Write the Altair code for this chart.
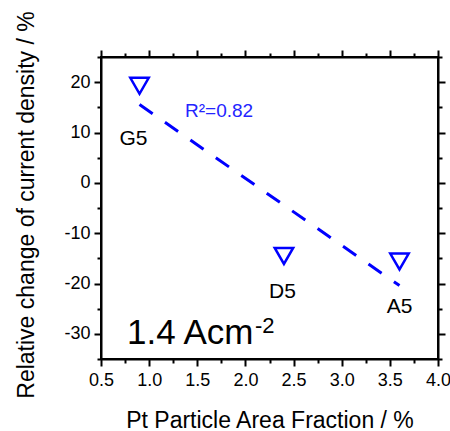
import altair as alt
import numpy as np
import pandas as pd

# Samples, Pt particle area fraction (%) and relative change of current density (%)
samples = ["G5", "D5", "A5"]
area_fraction = [0.9, 2.4, 3.6]
current_change = [19.8, -14.0, -15.1]

# Axis tick positions (majors labelled, minors between them)
x_tick_values = [0.5, 0.75, 1.0, 1.25, 1.5, 1.75, 2.0, 2.25, 2.5, 2.75,
                 3.0, 3.25, 3.5, 3.75, 4.0]
y_tick_values = [-35, -30, -25, -20, -15, -10, -5, 0, 5, 10, 15, 20, 25]

df = pd.DataFrame({"sample": samples, "x": area_fraction, "y": current_change})

# coefficient of determination of the linear fit
r2 = float(np.corrcoef(area_fraction, current_change)[0, 1] ** 2)

FONT = "Liberation Sans"
BLUE = "#0000ff"

x_scale = alt.Scale(domain=[0.5, 4.0], nice=False, zero=False)
y_scale = alt.Scale(domain=[-35, 25], nice=False, zero=False)

x_minor = "abs(datum.value * 2 - round(datum.value * 2)) > 0.001"
y_minor = "datum.value % 10 !== 0"


def axis(orient, values, minor_test, labels=True, label_expr=None, **kw):
    opts = dict(
        orient=orient,
        values=values,
        grid=False,
        domainColor="black",
        domainWidth=2,
        tickColor="black",
        tickWidth=2,
        tickSize={"condition": {"test": minor_test, "value": 4}, "value": 7},
        labels=labels,
        labelFont=FONT,
        labelFontSize=18,
        labelColor="black",
        labelOverlap=False,
        labelFlush=False,
        titleFont=FONT,
        titleFontSize=23,
        titleFontWeight="normal",
        titleColor="black",
    )
    if label_expr:
        opts["labelExpr"] = label_expr
    opts.update(kw)
    return alt.Axis(**opts)


bottom_axis = axis(
    "bottom", x_tick_values, x_minor,
    label_expr=f"{x_minor} ? '' : format(datum.value, '.1f')",
    labelPadding=5,
    title="Pt Particle Area Fraction / %",
    titleY=68, titleBaseline="alphabetic",
)
left_axis = axis(
    "left", y_tick_values, y_minor,
    label_expr=f"{y_minor} ? '' : '' + datum.value",
    labelPadding=4,
    title="Relative change of current density / %",
    titleX=-67.7, titleY=147.5, titleBaseline="alphabetic",
)
top_axis = axis("top", x_tick_values, x_minor, labels=False, title=None)
right_axis = axis("right", y_tick_values, y_minor, labels=False, title=None)

base = alt.Chart(df)

# open downward triangle, centred on its centroid
tri_down = "M-1,-0.577L1,-0.577L0,1.155Z"

points = base.mark_point(
    shape=tri_down, filled=False, size=340, strokeWidth=2.5, color=BLUE, opacity=1
).encode(
    x=alt.X("x:Q", scale=x_scale, axis=bottom_axis),
    y=alt.Y("y:Q", scale=y_scale, axis=left_axis),
)

fit = base.transform_regression(
    "x", "y", method="linear", extent=[min(area_fraction), max(area_fraction)]
).mark_line(
    color=BLUE, strokeWidth=3, strokeDash=[16, 15]
).encode(
    x=alt.X("x:Q", scale=x_scale, axis=None),
    y=alt.Y("y:Q", scale=y_scale, axis=None),
)

frame = base.mark_point(opacity=0).encode(
    x=alt.X("x:Q", scale=x_scale, axis=top_axis),
    y=alt.Y("y:Q", scale=y_scale, axis=right_axis),
)


def sample_label(name, dx, dy):
    return base.transform_filter(alt.datum.sample == name).mark_text(
        font=FONT, fontSize=21, color="black", dx=dx, dy=dy, baseline="middle"
    ).encode(
        x=alt.X("x:Q", scale=x_scale, axis=None),
        y=alt.Y("y:Q", scale=y_scale, axis=None),
        text="sample:N",
    )


labels = [
    sample_label("G5", -6, 56),
    sample_label("D5", -1.5, 39),
    sample_label("A5", 0, 48.5),
]

r2_text = alt.Chart().mark_text(
    font=FONT, fontSize=19, color="#2424ff", align="left", baseline="alphabetic"
).encode(x=alt.value(84), y=alt.value(59.7), text=alt.value(f"R\u00b2={r2:.2f}"))

density_text = alt.Chart().mark_text(
    font=FONT, fontSize=35, color="black", align="left", baseline="alphabetic"
).encode(x=alt.value(26), y=alt.value(287.3), text=alt.value("1.4 Acm"))

density_exp = alt.Chart().mark_text(
    font=FONT, fontSize=22, color="black", align="left", baseline="alphabetic"
).encode(x=alt.value(154), y=alt.value(276.3), text=alt.value("-2"))

chart = alt.layer(
    points, fit, *labels, r2_text, density_text, density_exp, frame
).resolve_axis(
    x="independent", y="independent"
).properties(
    width=337,
    height=302,
    autosize="none",
    padding={"left": 101, "top": 57, "right": 12, "bottom": 72},
    background="white",
).configure_view(stroke="black", strokeWidth=2)

chart.save("out.html", embed_options={"renderer": "svg", "actions": False})
